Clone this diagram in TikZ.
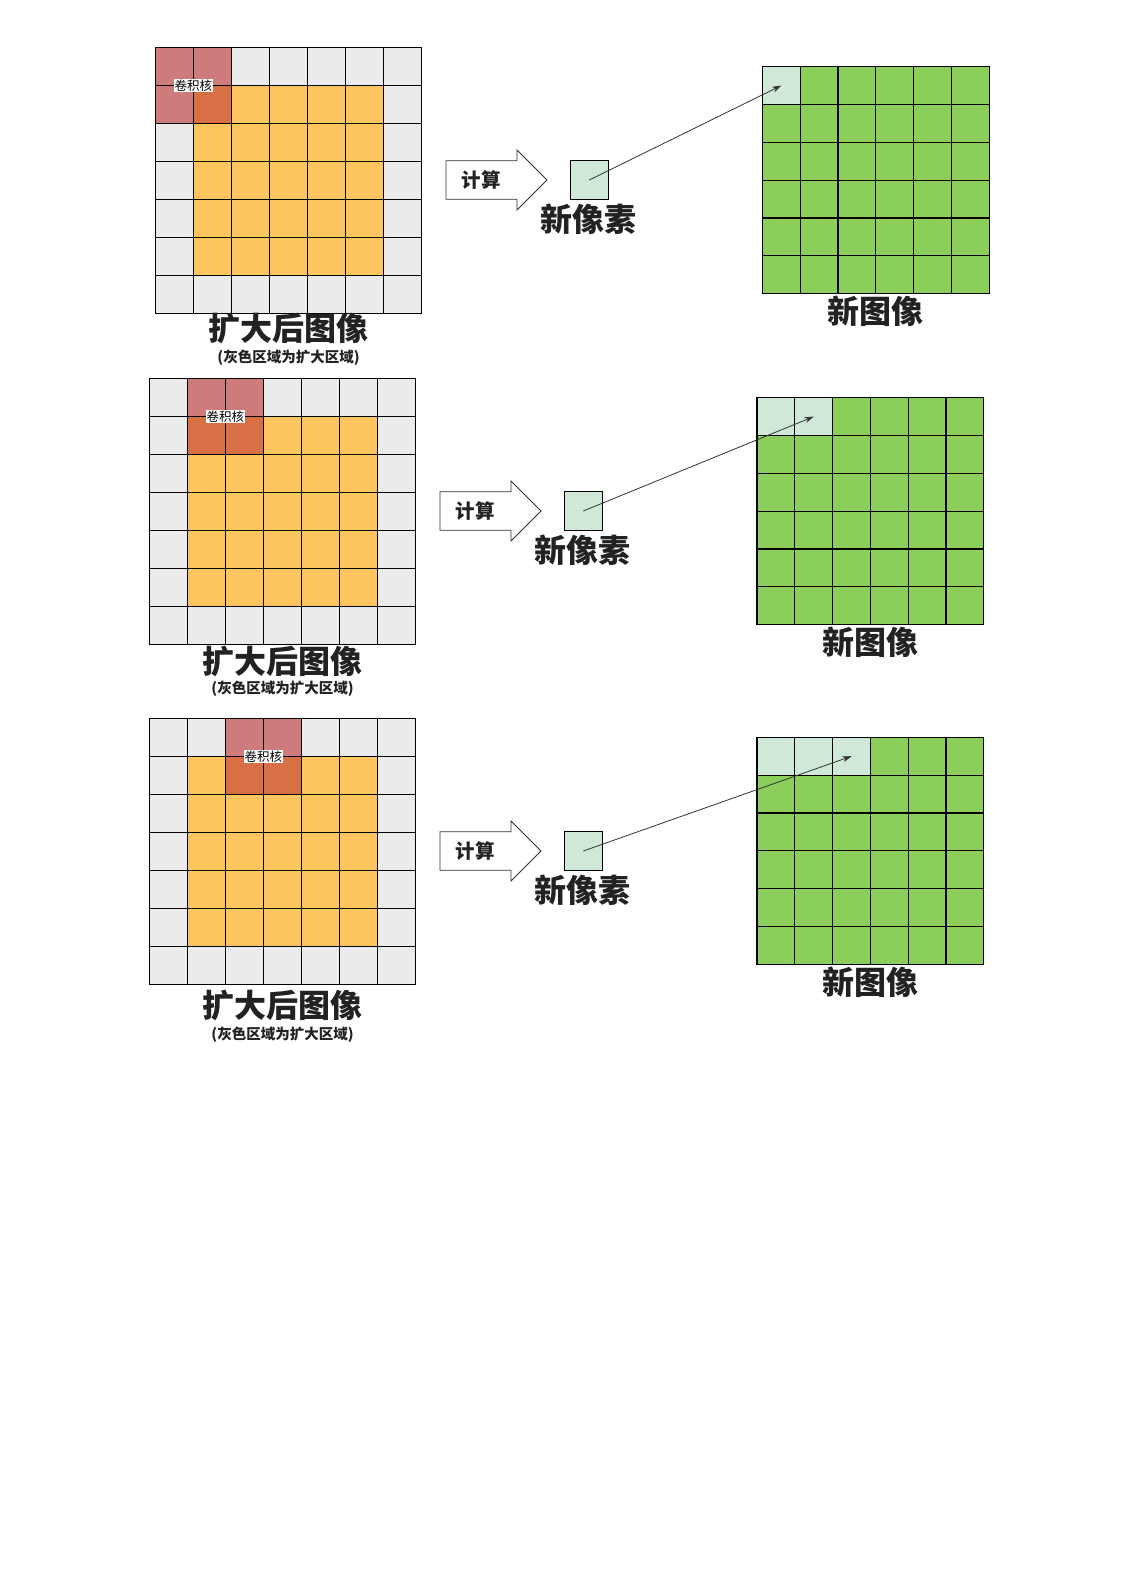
\documentclass[tikz,border=0pt]{standalone}
\usepackage{fontspec}
\newfontfamily\cjk{Noto Sans CJK SC}
\usetikzlibrary{arrows.meta}
\definecolor{gry}{HTML}{EBEBEB}
\definecolor{org}{HTML}{FEC55E}
\definecolor{pnk}{HTML}{CD7B7B}
\definecolor{dor}{HTML}{D86F45}
\definecolor{grn}{HTML}{8BCE5A}
\definecolor{lgr}{HTML}{CFE8D7}
\definecolor{txt}{HTML}{222222}
\definecolor{cgr}{HTML}{333333}
\begin{document}
\begin{tikzpicture}[x=1pt,y=-1pt,
 icell/.style={draw=black,line width=1.2pt,minimum width=38.06pt,minimum height=38pt,inner sep=0pt,outer sep=0pt},
 ocell/.style={draw=black,line width=1.2pt,minimum size=37.8pt,inner sep=0pt,outer sep=0pt},
 klabel/.style={fill=white,inner sep=0.8pt,font=\cjk\fontsize{12.5}{13}\selectfont},
 pix/.style={draw=black,line width=1pt,fill=lgr,minimum size=38.5pt,inner sep=0pt},
 big/.style={font=\cjk\bfseries\fontsize{32}{34}\selectfont,text=txt,inner sep=0pt},
 small/.style={font=\cjk\bfseries\fontsize{14.5}{16}\selectfont,text=txt,inner sep=0pt},
 calc/.style={font=\cjk\bfseries\fontsize{19.5}{20}\selectfont,text=txt,inner sep=0pt},
 conn/.style={draw=cgr,line width=0.8pt,-{Stealth[length=9pt,width=6pt]}},
 barrow/.style={draw=black!80,line width=0.8pt,fill=white}]
\path[use as bounding box,fill=white] (0,0) rectangle (1123,1587);

\foreach \p/\ix/\iy/\ox/\oy/\k/\ax/\ay/\lb/\ls/\lp/\lo in {
1/155.3/47.3/762.3/66.7/0/446/160.7/328/358/219.6/311.7,
2/149.3/378.3/757/397.7/1/440/491.7/661.7/688.3/550.5/642.6,
3/149.3/718.3/757/737.3/2/440/831.7/1005/1035/890.6/982.7}{
  % input (padded) grid
  \foreach \c in {0,...,6}{\foreach \r in {0,...,6}{
    \pgfmathtruncatemacro\code{and(and(\c>0,\c<6),and(\r>0,\r<6)) + 2*and(and(\c>=\k,\c<=\k+1),\r<2)}
    \edef\cellcol{\ifcase\code\space gry\or org\or pnk\or dor\fi}
    \node[icell,fill=\cellcol] (i\p-\c-\r) at ({\ix+(\c+0.5)*38.06},{\iy+(\r+0.5)*38}) {};
  }}
  \node[klabel] (kl\p) at ({\ix+(\k+1)*38.06},{\iy+38}) {卷积核};
  \node[big] (lb\p) at ({\ix+133.2},\lb) {扩大后图像};
  \node[small] (ls\p) at ({\ix+133.2},\ls) {(灰色区域为扩大区域)};
  % block arrow
  \draw[barrow] (\ax,\ay) -- ({\ax+71},\ay) -- ({\ax+71},{\ay-10.7}) -- ({\ax+101},{\ay+19.3})
     -- ({\ax+71},{\ay+49.3}) -- ({\ax+71},{\ay+38.6}) -- (\ax,{\ay+38.6}) -- cycle;
  \node[calc] (c\p) at ({\ax+35},{\ay+19.5}) {计算};
  % new pixel
  \node[pix] (s\p) at ({\ax+143.3},{\ay+19.3}) {};
  \node[big] (lp\p) at ({\ax+142},\lp) {新像素};
  % output grid
  \foreach \c in {0,...,5}{\foreach \r in {0,...,5}{
    \pgfmathtruncatemacro\lt{and(\r==0,\c<=\k)}
    \edef\cellcol{\ifnum\lt=1 lgr\else grn\fi}
    \node[ocell,fill=\cellcol] (o\p-\c-\r) at ({\ox+(\c+0.5)*37.8},{\oy+(\r+0.5)*37.8}) {};
  }}
  \node[big] (lo\p) at ({\ox+113.4},\lo) {新图像};
  \draw[conn] (s\p.center) -- (o\p-\k-0.center);
}
\end{tikzpicture}
\end{document}
